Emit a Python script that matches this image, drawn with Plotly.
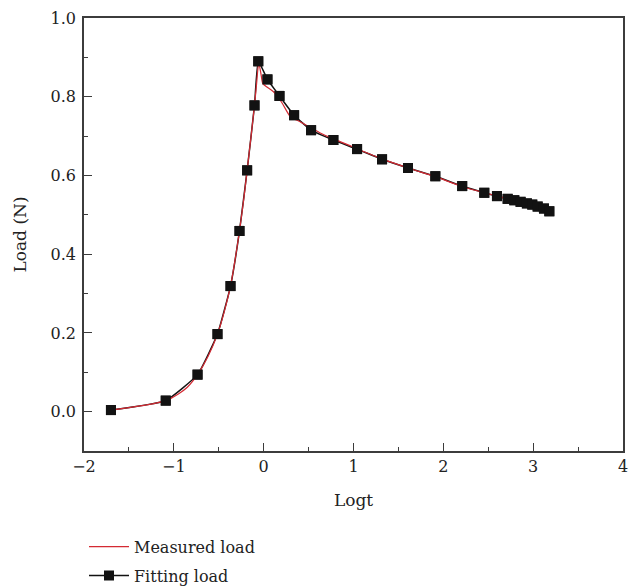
import plotly.graph_objects as go

# Fitting load (markers)
fit_x = [-1.70, -1.09, -0.736, -0.514, -0.369, -0.269, -0.184, -0.102, -0.060,
         0.042, 0.176, 0.339, 0.528, 0.776, 1.04, 1.318, 1.607, 1.911, 2.21,
         2.456, 2.597, 2.716, 2.79, 2.86, 2.93, 2.99, 3.05, 3.12, 3.18]
fit_y = [0.004, 0.028, 0.094, 0.197, 0.319, 0.459, 0.613, 0.778, 0.890,
         0.844, 0.802, 0.753, 0.715, 0.690, 0.667, 0.641, 0.619, 0.598, 0.573,
         0.556, 0.5475, 0.5406, 0.537, 0.533, 0.529, 0.526, 0.521, 0.516, 0.509]

# Measured load (red curve)
meas_x = [-1.70, -1.50, -1.30, -1.09, -0.95, -0.85, -0.736, -0.62, -0.514, -0.44,
          -0.369, -0.32, -0.269, -0.22, -0.184, -0.14, -0.102, -0.08, -0.055,
          -0.03, -0.01, 0.04, 0.112, 0.20, 0.298, 0.40, 0.52, 0.63, 0.743, 0.85,
          0.947, 1.04, 1.318, 1.607, 1.911, 2.21, 2.456, 2.597, 2.716, 2.86,
          2.99, 3.09, 3.18]
meas_y = [0.004, 0.010, 0.017, 0.028, 0.045, 0.062, 0.094, 0.140, 0.197, 0.253,
          0.319, 0.383, 0.459, 0.543, 0.613, 0.700, 0.778, 0.830, 0.886,
          0.858, 0.834, 0.824, 0.812, 0.786, 0.749, 0.737, 0.722, 0.708, 0.696, 0.686,
          0.677, 0.668, 0.642, 0.619, 0.597, 0.572, 0.556, 0.548, 0.541, 0.533,
          0.526, 0.520, 0.510]

x_ticks = [-2, -1, 0, 1, 2, 3, 4]
y_ticks = [0.0, 0.2, 0.4, 0.6, 0.8, 1.0]

FONT = "DejaVu Serif"
AX = "#3c3c3c"
BLACK = "#121212"
RED = "#d42a33"
TXT = "#222"

fig = go.Figure()
fig.add_trace(go.Scatter(
    x=fit_x, y=fit_y, mode="lines+markers", name="Fitting load",
    line=dict(color=BLACK, width=1.5, shape="spline", smoothing=0.4),
    marker=dict(symbol="square", size=10, color=BLACK),
    legendrank=2, legendgroup="b",
))
fig.add_trace(go.Scatter(
    x=meas_x, y=meas_y, mode="lines", name="Measured load",
    line=dict(color=RED, width=1.2, shape="spline", smoothing=0.6),
    legendrank=1, legendgroup="a",
))
fig.add_trace(go.Scatter(
    x=fit_x, y=fit_y, mode="markers", showlegend=False, hoverinfo="skip",
    marker=dict(symbol="square", size=10, color=BLACK), legendgroup="b",
))

axis_common = dict(
    showline=True, linecolor=AX, linewidth=1.6, mirror=True,
    ticks="inside", ticklen=8, tickwidth=1.3, tickcolor=AX,
    showgrid=False, zeroline=False, automargin=False,
    tickfont=dict(family=FONT, size=16, color=TXT),
)

fig.update_xaxes(
    range=[-2, 4], tickvals=x_ticks,
    minor=dict(ticks="inside", ticklen=4, dtick=0.5, tick0=0, tickcolor=AX, tickwidth=1.3),
    title=dict(text="Logt", font=dict(family=FONT, size=17, color=TXT), standoff=19),
    **axis_common,
)
fig.update_yaxes(
    range=[-0.1, 1.0], tickvals=y_ticks, tickformat=".1f", ticklabelstandoff=3,
    minor=dict(ticks="inside", ticklen=4, dtick=0.1, tick0=0, tickcolor=AX, tickwidth=1.3),
    title=dict(text="Load (N)", font=dict(family=FONT, size=17, color=TXT), standoff=20),
    **axis_common,
)

fig.update_layout(
    width=643, height=587,
    margin=dict(l=75.5, r=28.3, t=9.5, b=144, autoexpand=False),
    paper_bgcolor="white", plot_bgcolor="white",
    showlegend=True,
    legend=dict(
        x=0.0, y=-0.182, xanchor="left", yanchor="top",
        font=dict(family=FONT, size=16, color=TXT),
        bgcolor="rgba(0,0,0,0)", traceorder="grouped", tracegroupgap=5,
        itemwidth=40,
    ),
)

fig.write_html("out.html")
